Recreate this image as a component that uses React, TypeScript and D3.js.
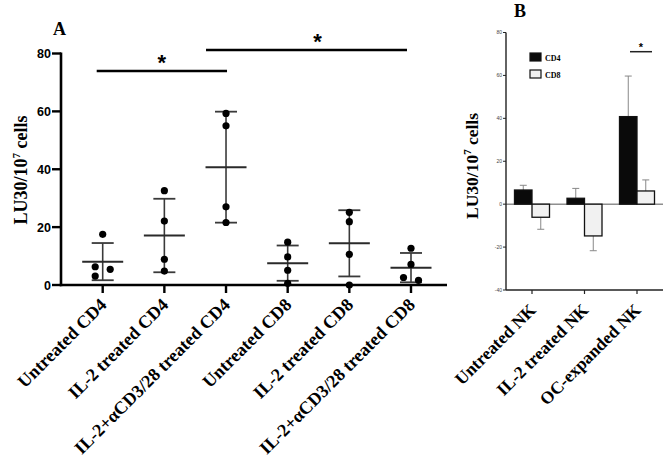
import React from "react";
import * as d3 from "d3";

// ---- Panel A data ----
const groupsA = [
  "Untreated CD4",
  "IL-2 treated CD4",
  "IL-2+αCD3/28 treated CD4",
  "Untreated CD8",
  "IL-2 treated CD8",
  "IL-2+αCD3/28 treated CD8",
];
const pointsA = [
  [17.5, 6.3, 5.4, 3.1],
  [32.6, 22.1, 8.9, 4.8],
  [59.3, 55.0, 27.0, 21.6],
  [14.8, 9.7, 5.1, 0.6],
  [25.1, 21.9, 10.6, 0.0],
  [12.7, 7.1, 2.6, 1.6],
];
const yTicksA = [0, 20, 40, 60, 80];
// significance comparisons (group index pairs)
const sigA = [
  [0, 2],
  [2, 5],
];

// ---- Panel B data ----
const groupsB = ["Untreated NK", "IL-2 treated NK", "OC-expanded NK"];
const seriesB = ["CD4", "CD8"];
const cd4B = [6.6, 2.75, 40.8];
const cd4ErrB = [2.2, 4.6, 18.9];
const cd8B = [-6.1, -14.8, 6.15];
const cd8ErrB = [5.6, 6.9, 5.15];
const yTicksB = [-40, -20, 0, 20, 40, 60, 80];

const SERIF = "'Liberation Serif', 'Times New Roman', serif";
const SANS = "'Liberation Sans', Arial, sans-serif";

function jitter(vals: number[], y: (v: number) => number, diam: number, off: number) {
  // cluster near-equal points and spread them alternately left/right
  const idx = vals.map((v, i) => i).sort((a, b) => vals[b] - vals[a]);
  const res = new Array(vals.length).fill(0);
  let cluster: number[] = [];
  const flush = () => {
    if (cluster.length > 1) cluster.forEach((k, j) => (res[k] = j % 2 === 0 ? -off : off));
    cluster = [];
  };
  idx.forEach((k, n) => {
    if (n > 0 && Math.abs(y(vals[k]) - y(vals[idx[n - 1]])) < diam) {
      if (cluster.length === 0) cluster.push(idx[n - 1]);
      cluster.push(k);
    } else flush();
  });
  flush();
  return res;
}

function YLabel({ x, y, size }: { x: number; y: number; size: number }) {
  return (
    <text
      transform={`translate(${x},${y}) rotate(-90)`}
      textAnchor="middle"
      fontFamily={SERIF}
      fontWeight="bold"
      fontSize={size}
      fill="#000"
    >
      LU30/10
      <tspan fontSize={size * 0.62} dy={-size * 0.38}>7</tspan>
      <tspan dy={size * 0.38}> cells</tspan>
    </text>
  );
}

function PanelA() {
  const y = d3.scaleLinear().domain([0, 80]).range([285, 53.5]);
  const x = d3.scalePoint<string>().domain(groupsA).range([102.7, 411]);
  const axisLeft = 61;
  const axisRight = 447;
  const r = 3.6;
  return (
    <g>
      <text x={53} y={35} fontFamily={SERIF} fontWeight="bold" fontSize={18}>A</text>
      <YLabel x={27} y={170} size={18} />
      {/* y axis */}
      <line x1={axisLeft} x2={axisLeft} y1={y(80) - 1} y2={y(0) + 1.2} stroke="#000" strokeWidth={2.6} />
      {yTicksA.map((t) => (
        <g key={t}>
          <line x1={axisLeft - 9} x2={axisLeft} y1={y(t)} y2={y(t)} stroke="#000" strokeWidth={2.4} />
          <text
            x={axisLeft - 10}
            y={y(t)}
            dy="0.36em"
            textAnchor="end"
            fontFamily={SANS}
            fontWeight="bold"
            fontSize={12.5}
          >
            {t}
          </text>
        </g>
      ))}
      {/* x axis */}
      <line x1={axisLeft - 1.3} x2={axisRight} y1={y(0)} y2={y(0)} stroke="#000" strokeWidth={2.6} />
      {groupsA.map((g) => (
        <g key={g}>
          <line x1={x(g)!} x2={x(g)!} y1={y(0)} y2={y(0) + 8} stroke="#000" strokeWidth={2.4} />
          <text
            transform={`translate(${x(g)! + 5},${y(0) + 21}) rotate(-45)`}
            textAnchor="end"
            fontFamily={SERIF}
            fontWeight="bold"
            fontSize={18}
          >
            {g}
          </text>
        </g>
      ))}
      {/* data */}
      {groupsA.map((g, i) => {
        const vals = pointsA[i];
        const m = d3.mean(vals)!;
        const sd = d3.deviation(vals)!;
        const cx = x(g)!;
        const jit = jitter(vals, y, 2 * r + 1, 7.5);
        return (
          <g key={g}>
            <line x1={cx} x2={cx} y1={y(m + sd)} y2={y(m - sd)} stroke="#3a3a3a" strokeWidth={1.6} />
            <line x1={cx - 11} x2={cx + 11} y1={y(m + sd)} y2={y(m + sd)} stroke="#3a3a3a" strokeWidth={1.8} />
            <line x1={cx - 11} x2={cx + 11} y1={y(m - sd)} y2={y(m - sd)} stroke="#3a3a3a" strokeWidth={1.8} />
            <line x1={cx - 20.5} x2={cx + 20.5} y1={y(m)} y2={y(m)} stroke="#2a2a2a" strokeWidth={2} />
            {vals.map((v, k) => (
              <circle key={k} cx={cx + jit[k]} cy={y(v)} r={r} fill="#000" />
            ))}
          </g>
        );
      })}
      {/* significance */}
      {sigA.map(([a, b], k) => {
        const x1 = x(groupsA[a])! - 6;
        const x2 = x(groupsA[b])! - 4 + (k === 0 ? 5 : 0);
        const ly = k === 0 ? 71 : 50;
        return (
          <g key={k}>
            <line x1={k === 0 ? x1 : x(groupsA[a])! - 20} x2={x2} y1={ly} y2={ly} stroke="#000" strokeWidth={2.6} />
            <text
              x={(x1 + x2) / 2 + (k === 0 ? 0 : 4)}
              y={ly - 1}
              textAnchor="middle"
              fontFamily={SANS}
              fontWeight="bold"
              fontSize={22}
            >
              *
            </text>
          </g>
        );
      })}
    </g>
  );
}

function PanelB() {
  const y = d3.scaleLinear().domain([-40, 80]).range([290, 32.5]);
  const x = d3.scalePoint<string>().domain(groupsB).range([532, 637]);
  const axisLeft = 506;
  const axisRight = 663;
  const bw = 17.5;
  const bars = [
    { name: seriesB[0], vals: cd4B, errs: cd4ErrB, fill: "#0a0a0a", side: -1 },
    { name: seriesB[1], vals: cd8B, errs: cd8ErrB, fill: "#f1f1f1", side: 1 },
  ];
  return (
    <g>
      <text x={514} y={17} fontFamily={SERIF} fontWeight="bold" fontSize={18}>B</text>
      <YLabel x={478} y={166} size={17.5} />
      {/* zero line */}
      <line x1={axisLeft} x2={axisRight} y1={y(0)} y2={y(0)} stroke="#555" strokeWidth={1} />
      {/* bars */}
      {bars.map((s) =>
        groupsB.map((g, i) => {
          const v = s.vals[i];
          const e = s.errs[i];
          const cx = x(g)!;
          const bx = s.side < 0 ? cx - bw : cx;
          const mid = bx + bw / 2;
          const tip = v >= 0 ? v + e : v - e;
          return (
            <g key={s.name + g}>
              <line x1={mid} x2={mid} y1={y(v)} y2={y(tip)} stroke="#888" strokeWidth={1} />
              <line x1={mid - 3.5} x2={mid + 3.5} y1={y(tip)} y2={y(tip)} stroke="#888" strokeWidth={1} />
              <rect
                x={bx}
                y={Math.min(y(v), y(0))}
                width={bw}
                height={Math.abs(y(v) - y(0))}
                fill={s.fill}
                stroke="#111"
                strokeWidth={1.3}
              />
            </g>
          );
        })
      )}
      {/* y axis */}
      <line x1={axisLeft} x2={axisLeft} y1={y(80)} y2={y(-40)} stroke="#222" strokeWidth={1.4} />
      {yTicksB.map((t) => (
        <g key={t}>
          <line x1={axisLeft - 3} x2={axisLeft} y1={y(t)} y2={y(t)} stroke="#222" strokeWidth={1} />
          <text
            x={axisLeft - 4}
            y={y(t)}
            dy="0.35em"
            textAnchor="end"
            fontFamily={SANS}
            fontSize={5}
            fill="#444"
          >
            {t}
          </text>
        </g>
      ))}
      {/* x axis */}
      <line x1={axisLeft} x2={axisRight} y1={y(-40)} y2={y(-40)} stroke="#222" strokeWidth={1.4} />
      {groupsB.map((g) => (
        <g key={g}>
          <line x1={x(g)!} x2={x(g)!} y1={y(-40)} y2={y(-40) + 4} stroke="#222" strokeWidth={1.2} />
          <text
            transform={`translate(${x(g)! + 5},${y(-40) + 21}) rotate(-45)`}
            textAnchor="end"
            fontFamily={SERIF}
            fontWeight="bold"
            fontSize={17.5}
          >
            {g}
          </text>
        </g>
      ))}
      {/* legend */}
      {bars.map((s, k) => (
        <g key={s.name} transform={`translate(530,${53 + k * 17})`}>
          <rect x={0} y={0} width={11} height={8} fill={s.fill} stroke="#111" strokeWidth={1.2} />
          <text x={15} y={7.5} fontFamily={SERIF} fontWeight="bold" fontSize={8}>
            {s.name}
          </text>
        </g>
      ))}
      {/* significance */}
      <line x1={630} x2={652} y1={51.7} y2={51.7} stroke="#222" strokeWidth={1.5} />
      <text x={641} y={51} textAnchor="middle" fontFamily={SANS} fontWeight="bold" fontSize={11}>
        *
      </text>
    </g>
  );
}

export default function App() {
  return (
    <svg
      width={666}
      height={458}
      style={{ position: "absolute", left: 0, top: 0, background: "#fff" }}
    >
      <rect width={666} height={458} fill="#fff" />
      <PanelA />
      <PanelB />
    </svg>
  );
}
